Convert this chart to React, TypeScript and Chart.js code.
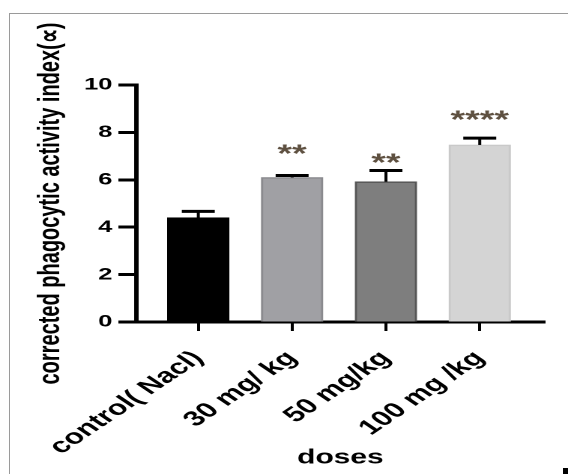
import React, { useEffect, useRef } from "react";
import { Chart, registerables } from "chart.js";

Chart.register(...registerables);

// ---- data ----
const categories = ["control( Nacl)", "30 mg/ kg", "50 mg/kg", "100 mg /kg"];
const means = [4.4, 6.1, 5.92, 7.47];
const sems = [0.27, 0.08, 0.47, 0.29];
const significance = ["", "**", "**", "****"];
const significanceLevels = [0, 7.31, 6.93, 8.74];
const yTickValues = [0, 2, 4, 6, 8, 10];
const barFills = ["#000000", "#a0a0a4", "#7e7e7e", "#d4d4d4"];
const barBorders = ["#000000", "#8a8a8e", "#555555", "#c9c9c9"];

const yTitle = "corrected phagocytic activity index(\u221d)";
const xTitle = "doses";

// logical canvas is drawn narrower and stretched horizontally (as in the reference)
const LOGICAL_W = 379;
const LOGICAL_H = 474;
const FONT = "'Liberation Sans', Arial, Helvetica, sans-serif";

const errorBarPlugin = {
  id: "errorBars",
  afterDatasetsDraw(chart: any) {
    const ctx = chart.ctx;
    const meta = chart.getDatasetMeta(0);
    const y = chart.scales.y;
    ctx.save();
    meta.data.forEach((bar: any, i: number) => {
      const xPix = bar.x;
      const top = y.getPixelForValue(means[i]);
      const errTop = y.getPixelForValue(means[i] + sems[i]);
      ctx.strokeStyle = "#000";
      ctx.lineWidth = 2;
      ctx.beginPath();
      ctx.moveTo(xPix, top);
      ctx.lineTo(xPix, errTop);
      ctx.stroke();
      ctx.lineWidth = 3;
      ctx.beginPath();
      ctx.moveTo(xPix - 11, errTop);
      ctx.lineTo(xPix + 11, errTop);
      ctx.stroke();

      const sig = significance[i];
      if (sig) {
        ctx.font = `bold 25px ${FONT}`;
        ctx.fillStyle = "#5e5040";
        ctx.textAlign = "center";
        ctx.textBaseline = "alphabetic";
        const m = ctx.measureText(sig);
        const cy = y.getPixelForValue(significanceLevels[i]);
        ctx.fillText(
          sig,
          xPix,
          cy + (m.actualBoundingBoxAscent - m.actualBoundingBoxDescent) / 2
        );
      }
    });
    ctx.restore();
  },
};

// y-axis title, drawn beside the y scale, centred on the chart area
const yTitlePlugin = {
  id: "yTitle",
  afterDraw(chart: any) {
    const ctx = chart.ctx;
    const area = chart.chartArea;
    ctx.save();
    ctx.translate(34, (area.top + area.bottom) / 2);
    ctx.rotate(-Math.PI / 2);
    ctx.font = `bold 20px ${FONT}`;
    ctx.fillStyle = "#000";
    ctx.textAlign = "center";
    ctx.textBaseline = "middle";
    ctx.fillText(yTitle, 0, 0);
    ctx.restore();
  },
};

export default function App() {
  const canvasRef = useRef<HTMLCanvasElement | null>(null);

  useEffect(() => {
    const canvas = canvasRef.current;
    if (!canvas) return;
    const chart = new Chart(canvas, {
      type: "bar",
      data: {
        datasets: [
          {
            data: means.map((v, i) => ({ x: i, y: v })),
            backgroundColor: barFills,
            borderColor: barBorders,
            borderWidth: 1.5,
            barThickness: 41,
          },
        ],
      },
      options: {
        animation: false,
        responsive: false,
        maintainAspectRatio: false,
        devicePixelRatio: 2,
        layout: { padding: { top: 85, right: 15.7, bottom: 0, left: 0 } },
        plugins: {
          legend: { display: false },
          tooltip: { enabled: false },
          title: { display: false },
        },
        scales: {
          x: {
            type: "linear",
            min: -0.66,
            max: 3.69,
            offset: false,
            afterBuildTicks: (scale: any) => {
              scale.ticks = categories.map((_, i) => ({ value: i }));
            },
            afterFit: (scale: any) => {
              scale.height = LOGICAL_H - 322;
            },
            ticks: {
              autoSkip: false,
              minRotation: 45,
              maxRotation: 45,
              padding: 15,
              color: "#000",
              font: { family: FONT, size: 21, weight: "bold" },
              callback: (v: any) => categories[v] ?? "",
            },
            grid: {
              display: true,
              offset: false,
              drawOnChartArea: false,
              drawTicks: true,
              tickLength: 9,
              tickWidth: 2,
              tickColor: "#000",
              color: "#000",
            },
            border: { display: true, color: "#000", width: 3 },
            title: {
              display: true,
              text: xTitle,
              color: "#000",
              font: { family: FONT, size: 20, weight: "bold" },
              padding: 4,
            },
          },
          y: {
            min: 0,
            max: 10,
            afterBuildTicks: (scale: any) => {
              scale.ticks = yTickValues.map((v) => ({ value: v }));
            },
            afterFit: (scale: any) => {
              scale.width = 91;
            },
            ticks: {
              padding: 4,
              color: "#000",
              font: { family: FONT, size: 17, weight: "bold" },
            },
            grid: {
              display: true,
              drawOnChartArea: false,
              drawTicks: true,
              tickLength: 12,
              tickWidth: 3,
              tickColor: "#000",
              color: "#000",
            },
            border: { display: true, color: "#000", width: 3 },
            title: { display: false },
          },
        },
      },
      plugins: [errorBarPlugin, yTitlePlugin],
    } as any);
    return () => chart.destroy();
  }, []);

  return (
    <div>
      <div
        style={{
          position: "fixed",
          left: 9,
          top: 13,
          width: 568 - 10,
          height: 474 - 14,
          borderLeft: "1px solid #9a9a9a",
          borderTop: "1px solid #9a9a9a",
          boxSizing: "content-box",
        }}
      />
      <div
        style={{
          position: "fixed",
          left: 563,
          top: 468,
          width: 5,
          height: 6,
          background: "#000",
        }}
      />
      <canvas
        ref={canvasRef}
        width={LOGICAL_W}
        height={LOGICAL_H}
        style={{
          position: "fixed",
          left: 0,
          top: 0,
          width: "568px",
          height: "474px",
        }}
      />
    </div>
  );
}
